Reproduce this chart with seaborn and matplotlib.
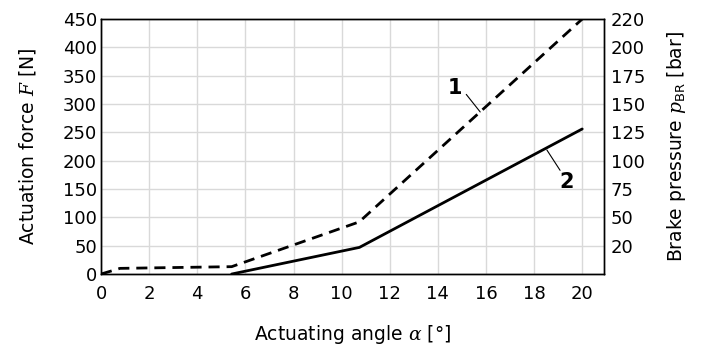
import seaborn as sns
import pandas as pd
from matplotlib import pyplot as plt

# curve 1: actuation force (dashed), curve 2: brake pressure (solid)
angle_1 = [0, 0.79, 5.43, 10.73, 20.0]
force_1 = [0, 10, 13, 92, 450]
angle_2 = [5.43, 10.74, 20.0]
force_2 = [0, 47, 256]

x_ticks = [0, 2, 4, 6, 8, 10, 12, 14, 16, 18, 20]
y_ticks = [0, 50, 100, 150, 200, 250, 300, 350, 400, 450]
right_ticks = [50, 100, 150, 200, 250, 300, 350, 400, 450]
right_labels = ['20', '50', '75', '100', '125', '150', '175', '200', '220']

df1 = pd.DataFrame({'angle': angle_1, 'force': force_1})
df2 = pd.DataFrame({'angle': angle_2, 'force': force_2})

sns.set_style('white')
plt.rcParams['font.family'] = ['DejaVu Sans']
plt.rcParams['mathtext.fontset'] = 'dejavuserif'
plt.rcParams['text.color'] = 'black'

fs = 13

fig = plt.figure(figsize=(7.03, 3.46), dpi=100)
ax = fig.add_axes([0.1437, 0.208, 0.7153, 0.737])

sns.lineplot(data=df1, x='angle', y='force', ax=ax, color='black',
             linewidth=2.0, linestyle=(0, (4, 2.5)), sort=False)
sns.lineplot(data=df2, x='angle', y='force', ax=ax, color='black',
             linewidth=2.0, sort=False)

ax.set_xlim(0, 20.9)
ax.set_ylim(0, 450)
ax.set_xticks(x_ticks)
ax.set_yticks(y_ticks)
ax.grid(True, color='#d9d9d9', linewidth=1.0)
ax.set_axisbelow(True)
for s in ax.spines.values():
    s.set_color('black')
    s.set_linewidth(1.0)
ax.tick_params(axis='y', length=0, labelsize=fs, pad=3, colors='black')
ax.tick_params(axis='x', length=0, labelsize=fs, pad=8, colors='black')

ax.set_xlabel(r'Actuating angle $\alpha$ [°]', fontsize=13.5, labelpad=14, color='black')
ax.set_ylabel(r'Actuation force $F$ [N]', fontsize=13.5, labelpad=18, color='black')

ax2 = ax.twinx()
ax2.set_ylim(0, 450)
ax2.set_yticks(right_ticks)
ax2.set_yticklabels(right_labels)
ax2.tick_params(axis='y', length=0, labelsize=fs, pad=5, colors='black')
ax2.set_ylabel(r'Brake pressure $p_{\mathsf{BR}}$ [bar]', fontsize=13.5, labelpad=14, color='black')
for s in ax2.spines.values():
    s.set_color('black')
    s.set_linewidth(1.0)

# curve labels with leader lines
ax.text(14.7, 328, '1', fontsize=15, fontweight='bold', color='black',
        ha='center', va='center')
ax.plot([15.18, 15.76], [317, 286], color='black', linewidth=0.8)
ax.text(19.36, 163, '2', fontsize=15, fontweight='bold', color='black',
        ha='center', va='center')
ax.plot([18.53, 19.08], [219, 183], color='black', linewidth=0.8)

fig.savefig('out.png', dpi=100)
